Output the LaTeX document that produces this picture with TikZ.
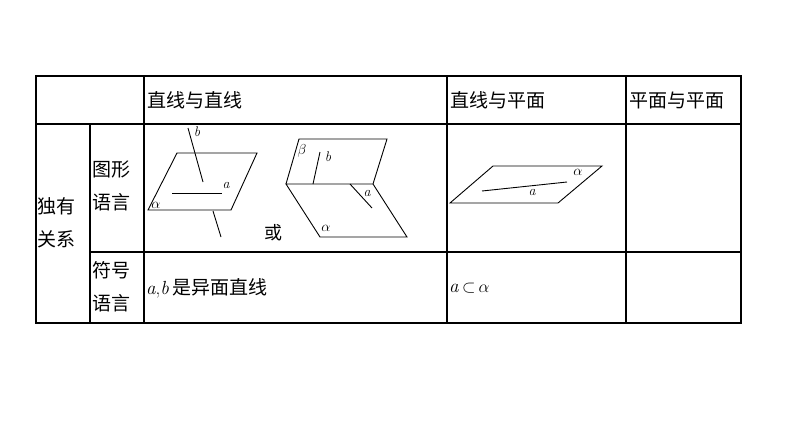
\documentclass[tikz,border=0pt]{standalone}
\usepackage{fontspec}
\newfontfamily\cjk{Noto Sans CJK SC}
\begin{document}
\begin{tikzpicture}[x=1pt,y=-1pt,
 tb/.style={line width=1.4pt},
 fig/.style={line width=0.9pt},
 hd/.style={font=\cjk\fontsize{19}{33}\selectfont,anchor=west,inner sep=0},
 lb/.style={font=\itshape\fontsize{14}{14}\selectfont,inner sep=0}]
\useasboundingbox[fill=white] (0,0) rectangle (794,447);
% table
\draw[tb] (36,76) rectangle (741,323);
\draw[tb] (36,124) -- (741,124);
\draw[tb] (90,252) -- (741,252);
\draw[tb] (90,124) -- (90,323);
\draw[tb] (144,76) -- (144,323);
\draw[tb] (447,76) -- (447,323);
\draw[tb] (626,76) -- (626,323);
\node[hd] (h1) at (147,100) {直线与直线};
\node[hd] (h2) at (450,100) {直线与平面};
\node[hd] (h3) at (629,100) {平面与平面};
\node[hd,align=left] (r0) at (37,223) {独有\\关系};
\node[hd,align=left] (r1) at (92,186) {图形\\语言};
\node[hd,align=left] (r2) at (92,287) {符号\\语言};
\node[anchor=west,inner sep=0,font=\fontsize{19}{20}\selectfont] (t1) at (146,288) {\textit{a},\textit{b}\,{\cjk 是异面直线}};
\node[anchor=west,inner sep=0,font=\fontsize{19}{20}\selectfont] (t2) at (449,288) {\textit{a}\,$\subset$\,$\alpha$};
% figure 1
\draw[fig] (177,153) -- (257,153) -- (231,210) -- (148,210) -- cycle;
\draw[fig] (188,128) -- (203,182);
\draw[fig] (213,211) -- (221,237);
\draw[fig] (172,193) -- (222,193);
\node[lb] (fa) at (226,185) {a};
\node[lb] (fb) at (197,132) {b};
\node[lb] (fal) at (156,205) {$\alpha$};
\node[font=\cjk\fontsize{18}{18}\selectfont,inner sep=0] (or) at (273,233) {或};
% figure 2
\draw[fig] (286,184) -- (299,139) -- (387,139) -- (373,184);
\draw[fig] (286,184) -- (373,184) -- (407,237) -- (320,237) -- cycle;
\draw[fig] (320,152) -- (313,184);
\draw[fig] (350,184) -- (372,208);
\node[lb] (gb) at (302,151) {$\beta$};
\node[lb] (gbb) at (328,157) {b};
\node[lb] (ga) at (367,193) {a};
\node[lb] (gal) at (326,228) {$\alpha$};
% figure 3
\draw[fig] (493,166) -- (602,166) -- (558,203) -- (450,203) -- cycle;
\draw[fig] (482,191) -- (567,182);
\node[lb] (ka) at (532,192) {a};
\node[lb] (kal) at (578,172) {$\alpha$};
\end{tikzpicture}
\end{document}
